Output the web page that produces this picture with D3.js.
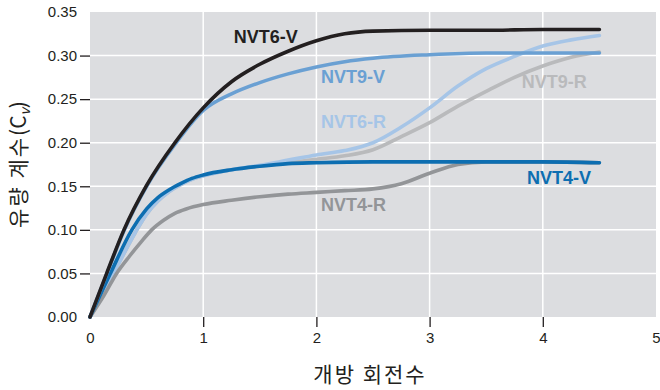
<!DOCTYPE html>
<html>
<head>
<meta charset="utf-8">
<script src="https://cdn.jsdelivr.net/npm/d3@7"></script>
<style>
  html, body { margin: 0; padding: 0; background: #ffffff; }
  svg { display: block; }
</style>
</head>
<body>
<svg id="chart" width="660" height="390"></svg>
<script>
// ---- data ----
const xTicks = [0, 1, 2, 3, 4, 5];
const yTicks = [0, 0.05, 0.10, 0.15, 0.20, 0.25, 0.30, 0.35];

const xNVT6V = [0, 0.15, 0.3, 0.5, 0.75, 1.0, 1.25, 1.5, 1.75, 2.0, 2.25, 2.5, 3.0, 3.5, 4.0, 4.5];
const yNVT6V = [0, 0.051, 0.100, 0.151, 0.200, 0.240, 0.270, 0.290, 0.305, 0.317, 0.325, 0.328, 0.329, 0.329, 0.330, 0.330];

const xNVT9V = [0, 0.15, 0.3, 0.5, 0.75, 1.0, 1.25, 1.5, 1.75, 2.0, 2.25, 2.5, 3.0, 3.5, 4.0, 4.5];
const yNVT9V = [0, 0.050, 0.099, 0.150, 0.198, 0.237, 0.256, 0.269, 0.279, 0.287, 0.293, 0.297, 0.301, 0.303, 0.303, 0.303];

const xNVT4V = [0, 0.18, 0.37, 0.5, 0.6, 0.7, 0.8, 0.9, 1.0, 1.25, 1.5, 1.75, 2.0, 2.5, 3.0, 3.5, 4.0, 4.5];
const yNVT4V = [0, 0.050, 0.100, 0.124, 0.137, 0.146, 0.153, 0.159, 0.163, 0.169, 0.173, 0.176, 0.177, 0.178, 0.178, 0.178, 0.178, 0.177];

const xNVT6R = [0, 0.2, 0.4, 0.5, 0.6, 0.7, 0.8, 0.9, 1.0, 1.25, 1.5, 1.75, 2.0, 2.25, 2.5, 2.75, 3.0, 3.25, 3.5, 3.75, 4.0, 4.25, 4.5];
const yNVT6R = [0, 0.048, 0.097, 0.118, 0.133, 0.144, 0.152, 0.158, 0.162, 0.169, 0.174, 0.180, 0.186, 0.191, 0.200, 0.218, 0.240, 0.265, 0.285, 0.299, 0.311, 0.318, 0.323];

const xNVT9R = [0, 0.2, 0.4, 0.5, 0.6, 0.7, 0.8, 0.9, 1.0, 1.25, 1.5, 1.75, 2.0, 2.25, 2.5, 2.75, 3.0, 3.25, 3.5, 3.75, 4.0, 4.25, 4.5];
const yNVT9R = [0, 0.048, 0.097, 0.118, 0.133, 0.144, 0.152, 0.158, 0.162, 0.169, 0.173, 0.177, 0.181, 0.185, 0.192, 0.207, 0.223, 0.242, 0.259, 0.275, 0.288, 0.298, 0.304];

const xNVT4R = [0, 0.12, 0.235, 0.35, 0.45, 0.545, 0.65, 0.75, 0.85, 1.0, 1.25, 1.5, 1.75, 2.0, 2.25, 2.5, 2.75, 3.0, 3.25, 3.5, 4.0, 4.5];
const yNVT4R = [0, 0.024, 0.050, 0.070, 0.086, 0.100, 0.111, 0.119, 0.124, 0.129, 0.134, 0.138, 0.141, 0.143, 0.145, 0.147, 0.153, 0.165, 0.175, 0.178, 0.178, 0.177];

const seriesNames = ["NVT9-R", "NVT6-R", "NVT4-R", "NVT4-V", "NVT9-V", "NVT6-V"];

// ---- layout ----
const svg = d3.select("#chart");
const m = { left: 90, right: 4, top: 12, bottom: 73 };
const W = 660, H = 390;
const x = d3.scaleLinear().domain([0, 5]).range([m.left, W - m.right]);
const y = d3.scaleLinear().domain([0, 0.35]).range([H - m.bottom, m.top]);

const font = "'Liberation Sans', Arial, Helvetica, sans-serif";
const ink = "#231f20";

// background
svg.append("rect")
  .attr("x", x(0)).attr("y", y(0.35))
  .attr("width", x(5) - x(0)).attr("height", y(0) - y(0.35))
  .attr("fill", "#dcdde0");

// grid
svg.append("g").selectAll("line").data(xTicks.slice(1, -1)).join("line")
  .attr("x1", d => x(d)).attr("x2", d => x(d))
  .attr("y1", y(0)).attr("y2", y(0.35))
  .attr("stroke", "#ffffff").attr("stroke-width", 1.5);
svg.append("g").selectAll("line").data(yTicks.slice(1, -1)).join("line")
  .attr("x1", x(0)).attr("x2", x(5))
  .attr("y1", d => y(d)).attr("y2", d => y(d))
  .attr("stroke", "#ffffff").attr("stroke-width", 1.5);

// axes
const yAxis = d3.axisLeft(y).tickValues(yTicks).tickFormat(d3.format(".2f")).tickSize(10).tickPadding(3);
const gy = svg.append("g").attr("transform", `translate(${x(0)},0)`).call(yAxis);
gy.select(".domain").remove();
gy.selectAll(".tick line").attr("stroke", ink).attr("stroke-width", 1.3)
  .attr("opacity", d => (d === 0 || d === 0.35) ? 0 : 1);
gy.selectAll(".tick text").attr("fill", ink).style("font-family", font).style("font-size", "15px");

const xAxis = d3.axisBottom(x).tickValues(xTicks).tickFormat(d3.format("d")).tickSize(10).tickPadding(5);
const gx = svg.append("g").attr("transform", `translate(0,${y(0)})`).call(xAxis);
gx.select(".domain").remove();
gx.selectAll(".tick line").attr("stroke", ink).attr("stroke-width", 1.3)
  .attr("opacity", d => (d === 0 || d === 5) ? 0 : 1);
gx.selectAll(".tick text").attr("fill", ink).style("font-family", font).style("font-size", "15px");

// series
const series = {
  "NVT9-R": { xs: xNVT9R, ys: yNVT9R, color: "#b9babc" },
  "NVT6-R": { xs: xNVT6R, ys: yNVT6R, color: "#a6c5e7" },
  "NVT4-R": { xs: xNVT4R, ys: yNVT4R, color: "#939598" },
  "NVT4-V": { xs: xNVT4V, ys: yNVT4V, color: "#0d6eb1" },
  "NVT9-V": { xs: xNVT9V, ys: yNVT9V, color: "#6aa0d3" },
  "NVT6-V": { xs: xNVT6V, ys: yNVT6V, color: "#231f20" }
};

const line = d3.line().x(d => x(d[0])).y(d => y(d[1])).curve(d3.curveMonotoneX);
seriesNames.forEach(name => {
  const s = series[name];
  svg.append("path")
    .datum(d3.zip(s.xs, s.ys))
    .attr("d", line)
    .attr("fill", "none")
    .attr("stroke", s.color)
    .attr("stroke-width", 3.6)
    .attr("stroke-linecap", "round")
    .attr("stroke-linejoin", "round");
});

// series labels
const labels = [
  { name: "NVT6-V", lx: 1.27, ly: 0.314 },
  { name: "NVT9-V", lx: 2.04, ly: 0.269 },
  { name: "NVT6-R", lx: 2.04, ly: 0.2165 },
  { name: "NVT9-R", lx: 3.815, ly: 0.2625 },
  { name: "NVT4-V", lx: 3.86, ly: 0.153 },
  { name: "NVT4-R", lx: 2.04, ly: 0.1215 }
];
svg.append("g").selectAll("text").data(labels).join("text")
  .attr("x", d => x(d.lx)).attr("y", d => y(d.ly))
  .attr("fill", d => series[d.name].color)
  .style("font-family", font).style("font-size", "18px").style("font-weight", "bold")
  .text(d => d.name);

// axis titles
svg.append("text")
  .attr("x", (x(0) + x(5)) / 2 - 3).attr("y", 382)
  .attr("text-anchor", "middle")
  .attr("fill", ink)
  .style("font-family", "'Noto Sans CJK KR', sans-serif").style("font-size", "21px")
  .style("letter-spacing", "2px")
  .text("개방 회전수");

const yt = svg.append("text")
  .attr("transform", `translate(26,${(y(0) + y(0.35)) / 2}) rotate(-90)`)
  .attr("text-anchor", "middle")
  .attr("fill", ink)
  .style("font-family", "'Noto Sans CJK KR', sans-serif").style("font-size", "21px");
yt.append("tspan").style("letter-spacing", "2px").text("유량 계수");
yt.append("tspan").text("(C");
yt.append("tspan").attr("dy", 4).style("font-size", "14px").style("font-style", "italic").text("v");
yt.append("tspan").attr("dy", -4).text(")");
</script>
</body>
</html>
